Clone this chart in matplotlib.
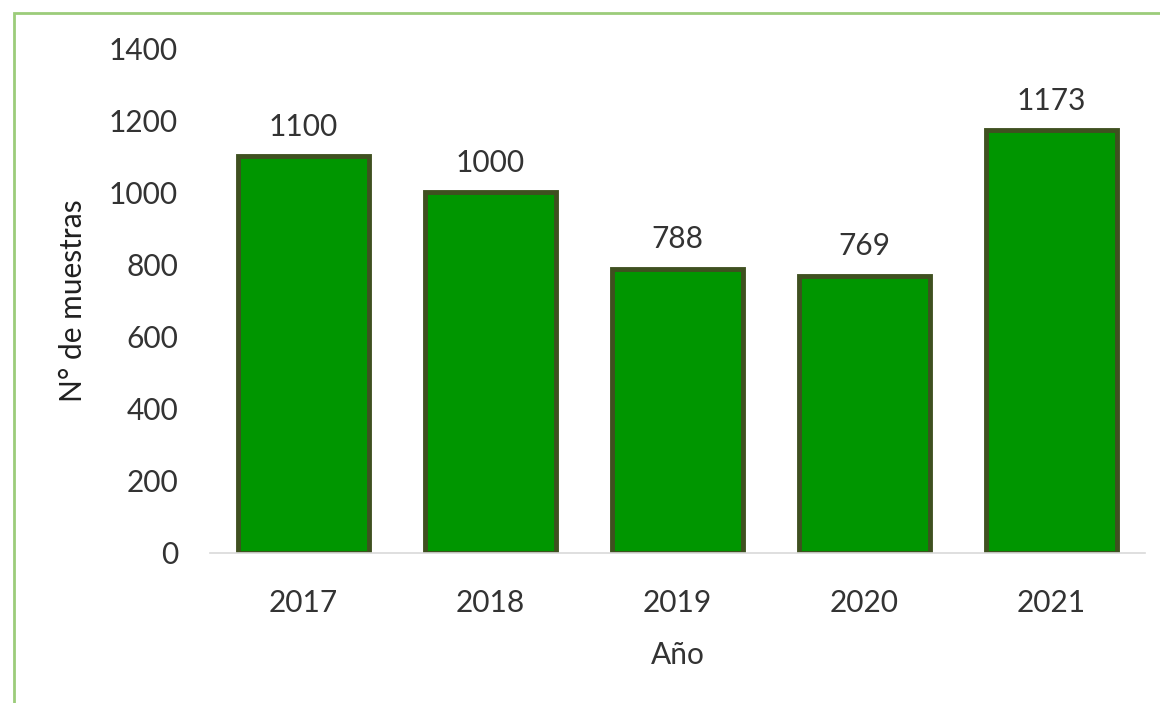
import matplotlib.pyplot as plt
from matplotlib.patches import Rectangle

# Datos
anios = ['2017', '2018', '2019', '2020', '2021']
muestras = [1100, 1000, 788, 769, 1173]
y_ticks = [0, 200, 400, 600, 800, 1000, 1200, 1400]

plt.rcParams['font.family'] = ['Lato', 'DejaVu Sans']

fig = plt.figure(figsize=(11.6, 7.03), dpi=100)
ax = fig.add_axes([0.181, 0.2134, 0.806, 0.7183])

# Barras
x = range(len(anios))
barras = ax.bar(x, muestras, width=0.7, color='#009600',
                edgecolor='#3f5020', linewidth=3.5)

# Etiquetas de valores
for b, v in zip(barras, muestras):
    ax.annotate(str(v), (b.get_x() + b.get_width() / 2, v),
                xytext=(0, 11), textcoords='offset points',
                ha='center', va='bottom', fontsize=21.5, color='#333333')

ax.set_xlim(-0.5, len(anios) - 0.5)
ax.set_ylim(0, 1400)
ax.set_yticks(y_ticks)
ax.set_xticks(list(x))
ax.set_xticklabels(anios)
ax.tick_params(axis='both', length=0, labelsize=21.5, labelcolor='#333333')
ax.tick_params(axis='x', pad=26)
ax.tick_params(axis='y', pad=23)

for s in ['top', 'right', 'left']:
    ax.spines[s].set_visible(False)
ax.spines['bottom'].set_color('#d9d9d9')
ax.spines['bottom'].set_linewidth(1.2)

ax.set_xlabel('Año', fontsize=21.5, color='#333333', labelpad=17)
ax.set_ylabel('N° de muestras', fontsize=21.5, color='#202020', labelpad=16)

# Borde exterior verde
fig.patches.append(Rectangle((14 / 1160, -0.1), 1.2, 1 - 13 / 703 + 0.1,
                             transform=fig.transFigure, fill=False,
                             edgecolor='#9ccc7a', linewidth=2))

fig.savefig('out.png', dpi=100)
